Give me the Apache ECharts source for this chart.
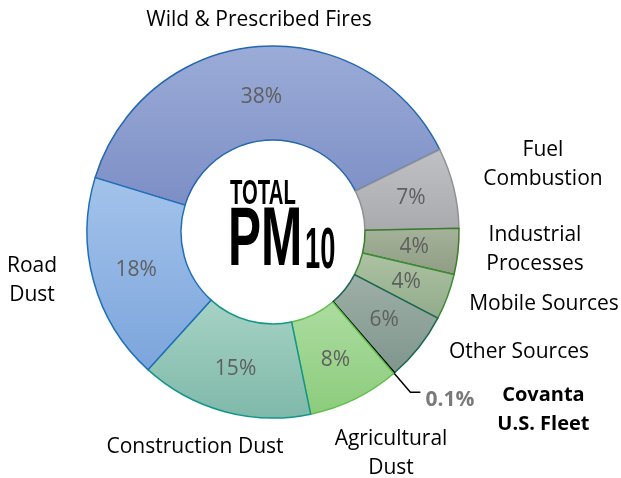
<!DOCTYPE html>
<html>
<head>
<meta charset="utf-8">
<script src="https://cdn.jsdelivr.net/npm/echarts@6/dist/echarts.min.js"></script>
<style>
  html, body { margin: 0; padding: 0; background: #fff; }
  #chart { width: 621px; height: 478px; }
</style>
</head>
<body>
<div id="chart"></div>
<script>
// 数据
var sourceNames = ['Wild & Prescribed Fires', 'Fuel\nCombustion', 'Industrial\nProcesses', 'Mobile Sources',
  'Other Sources', 'Covanta U.S. Fleet', 'Agricultural\nDust', 'Construction Dust', 'Road\nDust'];
var shares = [38, 7, 4, 4, 6, 0.1, 8, 15, 18];
var covantaIndex = 5;

// 颜色 (上 / 下 / 边框)
var topColors = ['#9cacd8', '#c0c1c5', '#a5b39a', '#adc3a3', '#9eafa7', '#000000', '#acdca0', '#a6d3c5', '#a3c3eb'];
var bottomColors = ['#7c8ec5', '#a8aaae', '#8e9c84', '#92aa8b', '#7f968d', '#000000', '#8ccc7c', '#7fb8a9', '#7ca5dc'];
var borderColors = ['#2467b0', '#8e9196', '#3c7a2c', '#3d8a33', '#1b6652', '#000000', '#5fbf4a', '#13968a', '#1f6fb8'];

// 名称标签位置
var labelSpots = [[259, 20], [543, 165], [535, 250], [544, 304], [519, 352], null, [391, 454], [195, 447], [32, 281]];

var chart = echarts.init(document.getElementById('chart'));

var ringData = shares.map(function (v, i) {
  return {
    value: v,
    name: sourceNames[i],
    itemStyle: {
      color: new echarts.graphic.LinearGradient(0, 0, 0, 1, [
        { offset: 0, color: topColors[i] },
        { offset: 1, color: bottomColors[i] }
      ]),
      borderColor: borderColors[i],
      borderWidth: 1.5
    },
    label: { show: i !== covantaIndex, offset: i === 0 ? [0, 7] : [0, 0] }
  };
});

var nameData = shares.map(function (v, i) {
  var item = { value: v, name: sourceNames[i] };
  if (i === covantaIndex) {
    item.label = {
      formatter: '{p|0.1%}{n|Covanta}\n{p| }{n|U.S. Fleet}',
      padding: [36, 0, 0, 0]
    };
    item.labelLine = { show: true, length: 72, length2: 10, lineStyle: { color: '#000', width: 1.5 } };
  }
  return item;
});

var option = {
  animation: false,
  graphic: [
    { type: 'text', x: 230, y: 194, scaleX: 0.58, style: { text: 'TOTAL', font: 'bold 35px "Liberation Sans"', fill: '#000', textVerticalAlign: 'middle' } },
    { type: 'text', x: 228, y: 242, scaleX: 0.59, style: { text: 'PM', font: 'bold 84px "Liberation Sans"', fill: '#000', textVerticalAlign: 'middle' } },
    { type: 'text', x: 305, y: 252, scaleX: 0.47, style: { text: '10', font: 'bold 58px "Liberation Sans"', fill: '#000', textVerticalAlign: 'middle' } }
  ],
  series: [
    {
      name: 'PM10',
      type: 'pie',
      center: [273, 232],
      radius: [92, 186],
      startAngle: 163,
      clockwise: true,
      silent: true,
      avoidLabelOverlap: false,
      label: {
        position: 'inside',
        formatter: function (p) { return p.value + '%'; },
        color: '#5f5f5f',
        fontSize: 21,
        fontFamily: 'Open Sans'
      },
      labelLine: { show: false },
      data: ringData
    },
    {
      name: 'Names',
      type: 'pie',
      center: [273, 232],
      radius: [0, 139],
      startAngle: 163,
      clockwise: true,
      silent: true,
      avoidLabelOverlap: false,
      itemStyle: { color: 'rgba(0,0,0,0)', borderWidth: 0 },
      label: {
        position: 'outside',
        color: '#000',
        fontSize: 21,
        lineHeight: 29,
        fontFamily: 'Open Sans',
        overflow: 'none',
        distanceToLabelLine: 5,
        rich: {
          p: { width: 68, fontSize: 21, fontWeight: 'bold', color: '#7a7a7a', fontFamily: 'Open Sans', padding: [8, 0, 0, 0] },
          n: { width: 100, align: 'center', fontSize: 20, fontWeight: 'bold', color: '#000', fontFamily: 'Open Sans', lineHeight: 29 }
        }
      },
      labelLine: { show: false, length: 0, length2: 0 },
      labelLayout: function (params) {
        var spot = labelSpots[params.dataIndex];
        if (!spot) return;
        return { x: spot[0], y: spot[1], align: 'center', verticalAlign: 'middle' };
      },
      data: nameData
    }
  ]
};

chart.setOption(option);
</script>
</body>
</html>
